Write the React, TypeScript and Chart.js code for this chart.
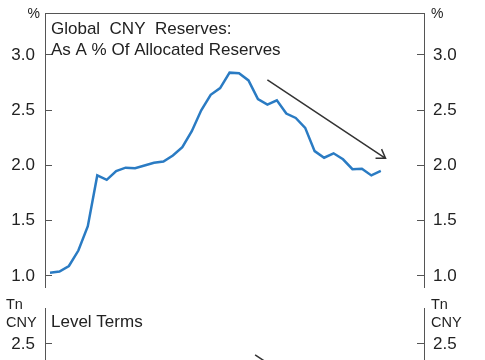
import React, { useEffect, useRef } from 'react';
import { Chart, registerables } from 'chart.js';

Chart.register(...registerables);

// ---- Data ----
const quarterLabels = [
  '2017Q1', '2017Q2', '2017Q3', '2017Q4',
  '2018Q1', '2018Q2', '2018Q3', '2018Q4',
  '2019Q1', '2019Q2', '2019Q3', '2019Q4',
  '2020Q1', '2020Q2', '2020Q3', '2020Q4',
  '2021Q1', '2021Q2', '2021Q3', '2021Q4',
  '2022Q1', '2022Q2', '2022Q3', '2022Q4',
  '2023Q1', '2023Q2', '2023Q3', '2023Q4',
  '2024Q1', '2024Q2', '2024Q3', '2024Q4',
  '2025Q1', '2025Q2', '2025Q3', '2025Q4',
];
const cnyShare = [
  1.03, 1.04, 1.09, 1.23, 1.45, 1.91, 1.87, 1.95, 1.98, 1.975, 2.0, 2.025,
  2.035, 2.09, 2.165, 2.31, 2.5, 2.64, 2.7, 2.84, 2.835, 2.77, 2.6, 2.55,
  2.59, 2.47, 2.43, 2.34, 2.13, 2.07, 2.11, 2.056, 1.966, 1.97, 1.91, 1.95,
];
const topTicks = [1.0, 1.5, 2.0, 2.5, 3.0];
const bottomTicks = [1.0, 1.5, 2.0, 2.5];
const topTitle = ['Global  CNY  Reserves:', 'As A % Of Allocated Reserves'];
const bottomTitle = 'Level Terms';
const topUnit = ['%'];
const bottomUnit = ['Tn', 'CNY'];
// trend arrows in data coordinates [index, value]
const topArrowFrom = [23.0, 2.774];
const topArrowTo = [35.5, 2.065];
const bottomArrowFrom = [21.7, 2.41];
const bottomArrowTo = [34.0, 1.77];

// ---- Styles ----
const FONT = "'Liberation Sans', Arial, Helvetica, sans-serif";
const AXIS = '#555555';
const TEXT = '#222222';
const LINE = '#2a7bc3';

Chart.defaults.font.family = FONT;

function drawArrow(ctx: CanvasRenderingContext2D, x1: number, y1: number, x2: number, y2: number) {
  ctx.save();
  ctx.strokeStyle = '#333333';
  ctx.lineWidth = 1.5;
  ctx.beginPath();
  ctx.moveTo(x1, y1);
  ctx.lineTo(x2, y2);
  const back = Math.atan2(y1 - y2, x1 - x2);
  const a = (33 * Math.PI) / 180;
  const L = 10;
  ctx.moveTo(x2 + L * Math.cos(back + a), y2 + L * Math.sin(back + a));
  ctx.lineTo(x2, y2);
  ctx.lineTo(x2 + L * Math.cos(back - a), y2 + L * Math.sin(back - a));
  ctx.stroke();
  ctx.restore();
}

function yAxis(position: 'left' | 'right', min: number, max: number, ticks: number[], width: number, pad: number) {
  return {
    type: 'linear',
    position,
    min,
    max,
    afterBuildTicks: (s: any) => {
      s.ticks = ticks.map((v) => ({ value: v }));
    },
    afterFit: (s: any) => {
      s.width = width;
      s.paddingTop = 0;
      s.paddingBottom = 0;
    },
    ticks: {
      padding: pad,
      color: TEXT,
      font: { size: 17, family: FONT },
      callback: (v: any) => Number(v).toFixed(1),
    },
    grid: {
      display: true,
      drawOnChartArea: false,
      drawTicks: true,
      tickLength: -7,
      color: AXIS,
      lineWidth: 1,
    },
    border: { display: true, color: AXIS, width: 1 },
  } as any;
}

const topDecor = {
  id: 'topDecor',
  afterDraw(chart: any) {
    const { ctx, chartArea: a, scales } = chart;
    ctx.save();
    // top border of panel
    ctx.strokeStyle = AXIS;
    ctx.lineWidth = 1;
    ctx.beginPath();
    ctx.moveTo(a.left, a.top + 0.5);
    ctx.lineTo(a.right + 1, a.top + 0.5);
    ctx.stroke();
    // title
    ctx.fillStyle = TEXT;
    ctx.font = `17px ${FONT}`;
    ctx.textAlign = 'left';
    ctx.textBaseline = 'alphabetic';
    topTitle.forEach((t, i) => ctx.fillText(t, a.left + 6, a.top + 21 + i * 21));
    // units
    ctx.font = `14px ${FONT}`;
    ctx.textAlign = 'right';
    ctx.fillText(topUnit[0], a.left - 5, a.top + 5);
    ctx.textAlign = 'left';
    ctx.fillText(topUnit[0], a.right + 7, a.top + 5);
    ctx.restore();
    // arrow
    const x = scales.x, y = scales.y;
    drawArrow(
      ctx,
      x.getPixelForValue(topArrowFrom[0]), y.getPixelForValue(topArrowFrom[1]),
      x.getPixelForValue(topArrowTo[0]), y.getPixelForValue(topArrowTo[1])
    );
  },
};

const bottomDecor = {
  id: 'bottomDecor',
  afterDraw(chart: any) {
    const { ctx, chartArea: a, scales } = chart;
    ctx.save();
    ctx.fillStyle = TEXT;
    ctx.font = `17px ${FONT}`;
    ctx.textAlign = 'left';
    ctx.textBaseline = 'alphabetic';
    ctx.fillText(bottomTitle, a.left + 6, a.top + 19);
    ctx.font = `14.5px ${FONT}`;
    bottomUnit.forEach((t, i) => {
      ctx.fillText(t, 6, a.top + 1 + i * 18);
      ctx.fillText(t, a.right + 7, a.top + 1 + i * 18);
    });
    ctx.restore();
    ctx.save();
    ctx.beginPath();
    ctx.rect(a.left, a.top, a.right - a.left, a.bottom - a.top);
    ctx.clip();
    const x = scales.x, y = scales.y;
    drawArrow(
      ctx,
      x.getPixelForValue(bottomArrowFrom[0]), y.getPixelForValue(bottomArrowFrom[1]),
      x.getPixelForValue(bottomArrowTo[0]), y.getPixelForValue(bottomArrowTo[1])
    );
    ctx.restore();
  },
};

export default function App() {
  const topRef = useRef<HTMLCanvasElement>(null);
  const botRef = useRef<HTMLCanvasElement>(null);

  useEffect(() => {
    const xScale = { type: 'linear', display: false, min: -0.53, max: 39.57 } as any;

    const top = new Chart(topRef.current!, {
      type: 'line',
      data: {
        labels: quarterLabels,
        datasets: [
          {
            label: 'CNY share of allocated reserves',
            data: cnyShare.map((v, i) => ({ x: i, y: v })),
            borderColor: LINE,
            borderWidth: 2.5,
            pointRadius: 0,
            tension: 0,
            fill: false,
            yAxisID: 'y',
          },
        ],
      },
      options: {
        responsive: false,
        animation: false,
        layout: { padding: { top: 13, bottom: 13, left: 0, right: 0 } },
        plugins: { legend: { display: false }, tooltip: { enabled: false } },
        scales: {
          x: xScale,
          y: yAxis('left', 0.9, 3.38, topTicks, 45, 17),
          y1: yAxis('right', 0.9, 3.38, topTicks, 61, 16),
        },
      },
      plugins: [topDecor],
    });

    const bot = new Chart(botRef.current!, {
      type: 'line',
      data: { labels: quarterLabels, datasets: [] },
      options: {
        responsive: false,
        animation: false,
        layout: { padding: { top: 12, bottom: 12, left: 0, right: 0 } },
        plugins: { legend: { display: false }, tooltip: { enabled: false } },
        scales: {
          x: { type: 'linear', display: false, min: -0.53, max: 39.57 } as any,
          y: yAxis('left', 1.0, 2.8, bottomTicks, 45, 17),
          y1: yAxis('right', 1.0, 2.8, bottomTicks, 61, 16),
        },
      },
      plugins: [bottomDecor],
    });

    return () => {
      top.destroy();
      bot.destroy();
    };
  }, []);

  return (
    <div
      style={{
        position: 'absolute',
        left: 0,
        top: 0,
        width: 485,
        height: 360,
        overflow: 'hidden',
        background: '#ffffff',
      }}
    >
      <canvas ref={topRef} width={485} height={300} style={{ position: 'absolute', left: 0, top: 0, display: 'block' }} />
      <canvas ref={botRef} width={485} height={240} style={{ position: 'absolute', left: 0, top: 296, display: 'block' }} />
    </div>
  );
}
